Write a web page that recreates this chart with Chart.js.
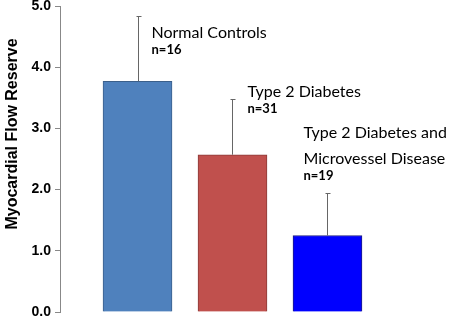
<!DOCTYPE html>
<html>
<head>
<meta charset="utf-8">
<script src="https://cdn.jsdelivr.net/npm/chart.js@4/dist/chart.umd.min.js"></script>
<style>
  html, body { margin: 0; padding: 0; background: #fff; }
  #wrap { width: 449px; height: 318px; }
</style>
</head>
<body>
<div id="wrap"><canvas id="myChart"></canvas></div>
<script>
// data
const groups = ["Normal Controls", "Type 2 Diabetes", "Type 2 Diabetes and\nMicrovessel Disease"];
const groupN = ["n=16", "n=31", "n=19"];
const meanMFR = [3.77, 2.57, 1.25];
const sdMFR = [1.07, 0.91, 0.70];
const yTicks = [0, 1, 2, 3, 4, 5];

const fillColors = ["#4F81BD", "#C0504D", "#0000FF"];
const edgeColors = ["#3B5F8A", "#8A3A38", "#202080"];

// where each group's text sits, relative to bar centre / error-bar top (px)
const labelOffsets = [
  { dx: 14, dy: 22 },
  { dx: 15, dy: -2 },
  { dx: -24, dy: -55 },
];

// error bars, drawn upward only
const errorBars = {
  id: "errorBars",
  afterDatasetsDraw(chart) {
    const ctx = chart.ctx;
    const x = chart.scales.x;
    const y = chart.scales.y;
    ctx.save();
    ctx.strokeStyle = "#666";
    ctx.lineWidth = 1;
    meanMFR.forEach((m, i) => {
      const cx = Math.round(x.getPixelForValue(i + 1)) + 0.5;
      const y0 = y.getPixelForValue(m);
      const y1 = Math.round(y.getPixelForValue(m + sdMFR[i])) + 0.5;
      ctx.beginPath();
      ctx.moveTo(cx, y0);
      ctx.lineTo(cx, y1);
      ctx.moveTo(cx - 2, y1);
      ctx.lineTo(cx + 3, y1);
      ctx.stroke();
    });
    ctx.restore();
  },
};

// group names and n=..
const groupLabels = {
  id: "groupLabels",
  afterDraw(chart) {
    const ctx = chart.ctx;
    const x = chart.scales.x;
    const y = chart.scales.y;
    ctx.save();
    ctx.fillStyle = "#000";
    ctx.textAlign = "left";
    ctx.textBaseline = "alphabetic";
    groups.forEach((g, i) => {
      const lx = x.getPixelForValue(i + 1) + labelOffsets[i].dx;
      let ly = y.getPixelForValue(meanMFR[i] + sdMFR[i]) + labelOffsets[i].dy;
      ctx.font = "16px Lato";
      g.split("\n").forEach((line, k) => {
        ctx.fillText(line, lx, ly);
        ly += 26;
      });
      ctx.font = "bold 13px Lato";
      ctx.fillText(groupN[i], lx, ly - 10);
    });
    // axis title
    ctx.translate(13, 134);
    ctx.rotate(-Math.PI / 2);
    ctx.textAlign = "center";
    ctx.textBaseline = "middle";
    ctx.font = "bold 16px Arial";
    ctx.fillText("Myocardial Flow Reserve", 0, 0);
    ctx.restore();
  },
};

const data = {
  datasets: [
    {
      data: meanMFR.map((v, i) => ({ x: i + 1, y: v })),
      backgroundColor: fillColors,
      borderColor: edgeColors,
      borderWidth: 1,
      barThickness: 69,
    },
  ],
};

const config = {
  type: "bar",
  data: data,
  options: {
    responsive: true,
    maintainAspectRatio: false,
    animation: false,
    layout: { padding: { top: 6, right: 10, bottom: 6, left: 0 } },
    plugins: { legend: { display: false }, tooltip: { enabled: false } },
    scales: {
      x: {
        type: "linear",
        display: false,
        offset: false,
        min: 0.184,
        max: 4.174,
      },
      y: {
        min: 0,
        max: 5,
        afterBuildTicks: (scale) => {
          scale.ticks = yTicks.map((v) => ({ value: v }));
        },
        afterFit: (scale) => {
          scale.width = 60;
          scale.paddingTop = 0;
          scale.paddingBottom = 0;
        },
        border: { color: "#888", width: 1 },
        grid: {
          drawOnChartArea: false,
          drawTicks: true,
          tickLength: 5,
          color: "#888",
        },
        ticks: {
          padding: 4,
          color: "#000",
          font: { family: "Arial", weight: "bold", size: 14 },
          callback: (v) => v.toFixed(1),
        },
      },
    },
  },
  plugins: [errorBars, groupLabels],
};

const myChart = new Chart(document.getElementById("myChart"), config);
</script>
</body>
</html>
